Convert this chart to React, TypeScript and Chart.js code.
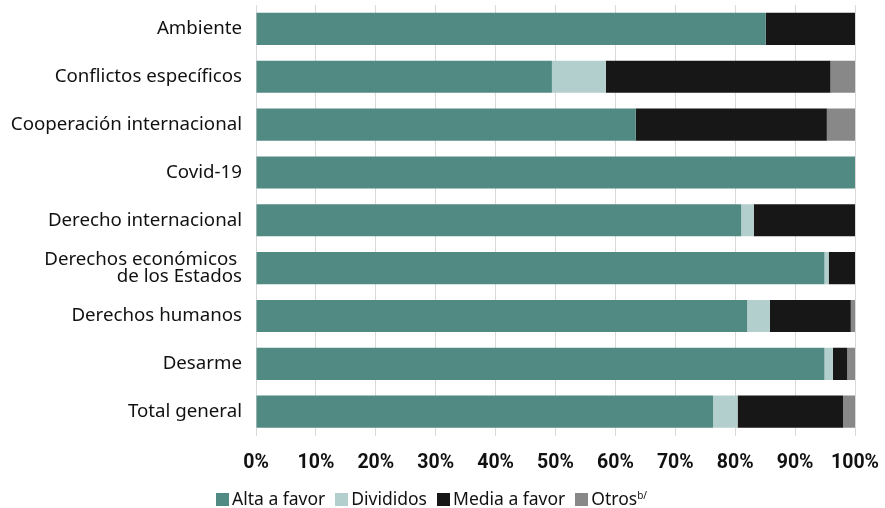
import React, { useEffect, useRef } from "react";
import { Chart, registerables } from "chart.js";

Chart.register(...registerables);

const categories: (string | string[])[] = [
  "Ambiente",
  "Conflictos específicos",
  "Cooperación internacional",
  "Covid-19",
  "Derecho internacional",
  ["Derechos económicos ", "de los Estados"],
  "Derechos humanos",
  "Desarme",
  "Total general",
];

const altaAFavor = [85.1, 49.4, 63.4, 100, 81.0, 94.9, 82.0, 94.9, 76.3];
const divididos = [0, 9.0, 0, 0, 2.1, 0.7, 3.8, 1.4, 4.1];
const mediaAFavor = [14.9, 37.5, 31.9, 0, 16.9, 4.4, 13.5, 2.4, 17.6];
const otros = [0, 4.1, 4.7, 0, 0, 0, 0.7, 1.3, 2.0];

const seriesNames = ["Alta a favor", "Divididos", "Media a favor", "Otros"];
const seriesSup = ["", "", "", "b/"];
const seriesColors = ["#508a83", "#b3cfcd", "#171717", "#888888"];

export default function App() {
  const ref = useRef<HTMLCanvasElement | null>(null);
  useEffect(() => {
    if (!ref.current) return;
    const data = [altaAFavor, divididos, mediaAFavor, otros];
    const zeroPad = (s: any) => {
      s.paddingTop = 0;
      s.paddingBottom = 0;
      s.paddingLeft = 0;
      s.paddingRight = 0;
    };
    const chart = new Chart(ref.current, {
      type: "bar",
      data: {
        labels: categories,
        datasets: data.map((d, i) => ({
          label: seriesNames[i],
          data: d,
          backgroundColor: seriesColors[i],
          borderWidth: 0,
          barPercentage: 0.85,
          categoryPercentage: 0.79,
        })),
      },
      options: {
        indexAxis: "y",
        animation: false,
        responsive: true,
        maintainAspectRatio: false,
        layout: { padding: { top: 5, right: 30, left: 6, bottom: 17 } },
        plugins: {
          legend: { display: false },
          tooltip: { enabled: false },
        },
        scales: {
          x: {
            stacked: true,
            min: 0,
            max: 100,
            afterFit: zeroPad,
            ticks: {
              stepSize: 10,
              callback: (v: any) => v + "%",
              color: "#111",
              padding: 16,
              maxRotation: 0,
              autoSkip: false,
              font: { family: "'Roboto'", size: 19.5, weight: "bold" },
            },
            grid: { color: "#d9d9d9", drawTicks: false },
            border: { display: false },
          },
          y: {
            stacked: true,
            afterFit: (s: any) => {
              zeroPad(s);
              s.width = 250;
            },
            ticks: {
              color: "#111",
              padding: 14,
              autoSkip: false,
              font: { family: "'Noto Sans'", size: 18.7, lineHeight: 0.88 },
            },
            grid: { display: false, drawTicks: false },
            border: { display: true, color: "#d9d9d9" },
          },
        },
      },
    });
    return () => chart.destroy();
  }, []);
  return (
    <div style={{ position: "fixed", left: 0, top: 0, width: 885, height: 508 }}>
      <canvas ref={ref} />
      <div
        style={{
          position: "absolute",
          left: 216,
          top: 487,
          display: "flex",
          alignItems: "center",
          fontFamily: "'Noto Sans'",
          fontSize: 17.5,
          lineHeight: "22px",
          color: "#111",
          whiteSpace: "nowrap",
        }}
      >
        {seriesNames.map((n, i) => (
          <div key={n} style={{ display: "flex", alignItems: "center", marginRight: 10 }}>
            <span
              style={{
                display: "inline-block",
                width: 13,
                height: 13,
                background: seriesColors[i],
                marginRight: 3,
                marginTop: 3,
              }}
            />
            <span>
              {n}
              {seriesSup[i] ? (
                <sup style={{ fontSize: 10, lineHeight: 0, verticalAlign: "6px" }}>{seriesSup[i]}</sup>
              ) : null}
            </span>
          </div>
        ))}
      </div>
    </div>
  );
}
